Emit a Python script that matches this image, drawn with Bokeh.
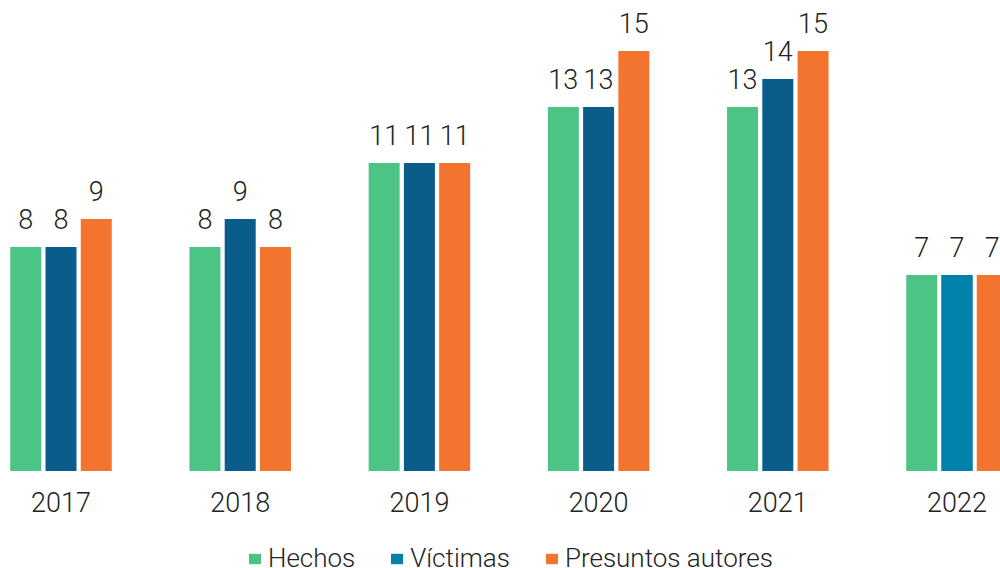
from bokeh.plotting import figure
from bokeh.models import ColumnDataSource, Legend, LegendItem, Range1d, CDSView, IndexFilter
from bokeh.transform import dodge
from bokeh.core.properties import value
from bokeh.embed import file_html
from bokeh.resources import INLINE

years = ["2017", "2018", "2019", "2020", "2021", "2022"]
hechos = [8, 8, 11, 13, 13, 7]
victimas = [8, 9, 11, 13, 14, 7]
autores = [9, 8, 11, 15, 15, 7]

c_hechos = "#4BC486"
c_vict_dark = "#0A5C8A"
c_vict_light = "#0282AA"
c_autores = "#F3742E"
vict_colors = [c_vict_dark] * 5 + [c_vict_light]

FONT = "Roboto Light"
TXT = "#222222"

idx = list(range(len(years)))
src = ColumnDataSource(dict(
    x=idx, zero=[0] * len(idx), years=years,
    hechos=hechos, victimas=victimas, autores=autores,
    vcol=vict_colors,
    lh=[str(v) for v in hechos], lv=[str(v) for v in victimas], la=[str(v) for v in autores],
))

W, H = 1000, 568
px_per_x = 179.2
px_per_y = 28.0
base_px = 470.5
x_start = -60.5 / px_per_x
p = figure(width=W, height=H, output_backend="svg", toolbar_location=None,
           x_range=Range1d(x_start, x_start + W / px_per_x),
           y_range=Range1d(-(H - base_px) / px_per_y, base_px / px_per_y),
           x_axis_location=None, y_axis_location=None,
           min_border=0)
p.outline_line_color = None
p.grid.visible = False
p.background_fill_color = "white"
p.border_fill_color = "white"

off = 35.25 / px_per_x
w = 31 / px_per_x

r1 = p.vbar(x=dodge("x", -off, range=p.x_range), top="hechos", width=w, source=src,
            fill_color=c_hechos, line_color=None)
r2 = p.vbar(x=dodge("x", 0, range=p.x_range), top="victimas", width=w, source=src,
            fill_color="vcol", line_color=None)
# 2022 Víctimas bar (lighter blue), also used as the legend swatch
r2b = p.vbar(x=dodge("x", 0, range=p.x_range), top="victimas", width=w, source=src,
             view=CDSView(filter=IndexFilter([5])),
             fill_color=c_vict_light, line_color=None)
r3 = p.vbar(x=dodge("x", off, range=p.x_range), top="autores", width=w, source=src,
            fill_color=c_autores, line_color=None)

for o, ycol, tcol in [(-off, "hechos", "lh"), (0, "victimas", "lv"), (off, "autores", "la")]:
    p.text(x=dodge("x", o, range=p.x_range), y=ycol, text=tcol, source=src,
           text_align="center", text_baseline="alphabetic", y_offset=-28,
           text_font=value(FONT), text_font_size="27px", text_color=TXT)

# category (year) labels under each group
p.text(x="x", y="zero", text="years", source=src,
       text_align="center", text_baseline="alphabetic", y_offset=31,
       text_font=value(FONT), text_font_size="27px", text_color=TXT)

legend = Legend(items=[
    LegendItem(label="Hechos", renderers=[r1]),
    LegendItem(label="Víctimas", renderers=[r2b]),
    LegendItem(label="Presuntos autores", renderers=[r3]),
], orientation="horizontal", location=(247, -5),
    glyph_width=15, glyph_height=13, label_standoff=6, spacing=34,
    label_text_font=FONT, label_text_font_size="26px", label_text_color=TXT,
    border_line_color=None, background_fill_alpha=0, padding=0, margin=0)
p.add_layout(legend, "center")

open("out.html", "w").write(file_html(p, INLINE))
